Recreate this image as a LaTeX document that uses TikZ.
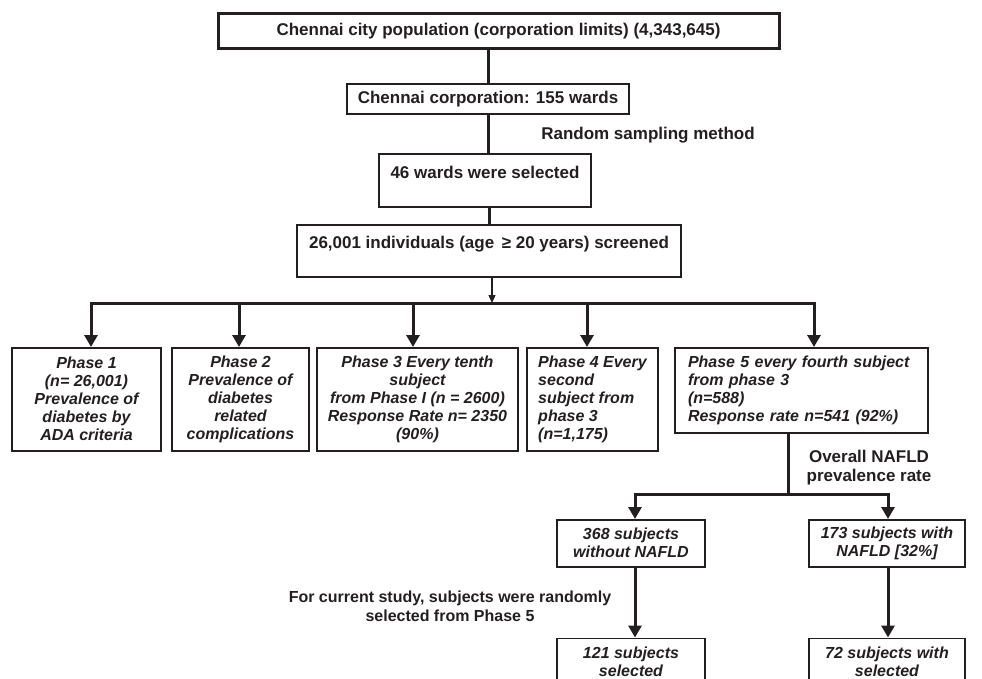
\documentclass[tikz,border=0pt]{standalone}
\usepackage{fontspec}
\setmainfont{Liberation Sans}
\usetikzlibrary{arrows.meta}
\definecolor{ink}{RGB}{35,31,32}
\begin{document}
\begin{tikzpicture}[x=1pt,y=-1pt,
  every node/.style={text=ink},
  box/.style={draw=ink, line width=1.5pt, inner sep=0pt, font=\bfseries\fontsize{17}{20}\selectfont},
  pbox/.style={draw=ink, line width=1.5pt, inner sep=0pt, anchor=north, font=\bfseries\itshape\fontsize{16}{18}\selectfont},
  conn/.style={draw=ink, line width=3pt},
  arr/.style={conn, -{Triangle[width=13pt,length=12pt]}},
  arrtwo/.style={conn, line join=miter, {Triangle[width=13pt,length=12pt]}-{Triangle[width=13pt,length=12pt]}},
  lbl/.style={font=\bfseries\fontsize{17}{20}\selectfont, align=center},
]
\useasboundingbox (0,0) rectangle (982,679);
\clip (0,0) rectangle (982,679);

% upper chain
\node[box, line width=3pt, minimum width=561pt, minimum height=35pt] (city) at (498.5,31.5) {Chennai city population (corporation limits) (4,343,645)};
\node[box, minimum width=282pt, minimum height=30pt] (wards) at (488,99) {Chennai corporation: 155 wards};
\node[lbl] (rsm) at (648,135) {Random sampling method};
\node[box, minimum width=212pt, minimum height=53pt, text depth=17pt] (sel) at (485,180.5) {46 wards were selected};
\node[box, minimum width=384pt, minimum height=52pt, text depth=17pt] (scr) at (489,251) {26,001 individuals (age \,≥ 20 years) screened};

% phases
\node[pbox, align=center, minimum width=149pt, minimum height=103pt] (p1) at (86.5,347) {Phase 1\\(n= 26,001)\\Prevalence of\\diabetes by\\ADA criteria};
\node[pbox, align=center, minimum width=137pt, minimum height=103pt] (p2) at (240.5,347) {Phase 2\\Prevalence of\\diabetes\\related\\complications};
\node[pbox, align=center, minimum width=201pt, minimum height=103pt] (p3) at (417.5,347) {Phase 3 Every tenth\\subject\\from Phase I (n = 2600)\\Response Rate n= 2350\\(90\%)};
\node[pbox, align=left, minimum width=131pt, minimum height=103pt] (p4) at (592.5,347) {Phase 4 Every\\second\\subject from\\phase 3\\(n=1,175)};
\node[pbox, align=left, text width=227pt, inner xsep=13pt, minimum height=85pt] (p5) at (801.5,347) {Phase 5 every fourth subject\\from phase 3\\(n=588)\\Response rate n=541 (92\%)};

% NAFLD part
\node[lbl, font=\bfseries\fontsize{17}{19}\selectfont] (ov) at (869,468) {Overall NAFLD\\prevalence rate};
\node[pbox, align=center, minimum width=148pt, minimum height=47pt] (no) at (631,519) {368 subjects\\without NAFLD};
\node[pbox, align=center, minimum width=156pt, minimum height=47pt] (yes) at (887,519) {173 subjects with\\NAFLD [32\%]};
\node[lbl, font=\bfseries\fontsize{16}{19}\selectfont] (cur) at (450,606) {For current study, subjects were randomly\\selected from Phase 5};
\node[pbox, align=center, minimum width=148pt, minimum height=48pt] (s121) at (631,637.5) {121 subjects\\selected};
\node[pbox, align=center, minimum width=156pt, minimum height=48pt] (s72) at (887,637.5) {72 subjects with\\selected};

% connectors, upper
\draw[conn] (city.south -| wards) -- (wards.north);
\draw[conn] (wards.south) -- (wards.south |- sel.north);
\draw[conn] (sel.south -| scr) -- (scr.north);

\coordinate (bs) at (492,303);
\coordinate (b1) at (91,303);
\coordinate (b2) at (239,303);
\coordinate (b3) at (413,303);
\coordinate (b4) at (587,303);
\coordinate (b5) at (814,303);
\draw[draw=ink, line width=1.3pt, -{Triangle[width=7pt,length=8pt]}] (bs |- scr.south) -- (bs);
\draw[arrtwo] (b1 |- p1.north) -- (b1) -- (b5) -- (b5 |- p5.north);
\draw[arr] (b2) -- (b2 |- p2.north);
\draw[arr] (b3) -- (b3 |- p3.north);
\draw[arr] (b4) -- (b4 |- p4.north);

% connectors, lower
\coordinate (s5) at (788,494);
\coordinate (l5) at (635,494);
\coordinate (r5) at (888,494);
\draw[conn] (s5 |- p5.south) -- (s5);
\draw[arrtwo] (l5 |- no.north) -- (l5) -- (r5) -- (r5 |- yes.north);
\draw[arr] (l5 |- no.south) -- (l5 |- s121.north);
\draw[arr] (r5 |- yes.south) -- (r5 |- s72.north);
\end{tikzpicture}
\end{document}
